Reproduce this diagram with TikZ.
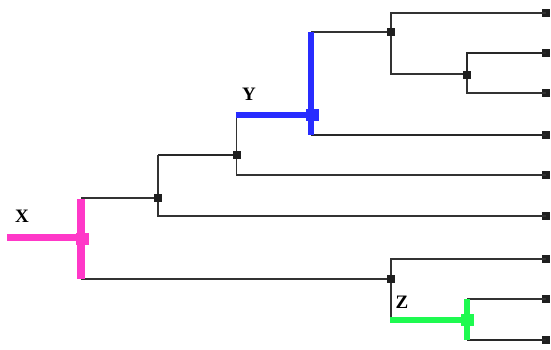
\documentclass[tikz,border=0pt]{standalone}
\usepackage{fontspec}
\setmainfont{Liberation Serif}
\definecolor{cpink}{RGB}{255,56,200}
\definecolor{cblue}{RGB}{40,44,255}
\definecolor{cgreen}{RGB}{30,250,80}
\definecolor{cline}{RGB}{50,50,50}
\begin{document}
\begin{tikzpicture}[x=1pt,y=-1pt,
  br/.style={line width=1.5pt, draw=cline},
  brthick/.style={line width=2.3pt, draw=cline!80!black},
  nd/.style={fill=black!88, minimum size=8pt, inner sep=0pt, outer sep=0pt},
  csq/.style={fill=#1, minimum width=13pt, minimum height=12pt, inner sep=0pt, outer sep=0pt},
  cbr/.style={line width=#1, line cap=butt},
  lab/.style={font=\bfseries\fontsize{19}{19}\selectfont, inner sep=0pt}]
\useasboundingbox (0,0) rectangle (551,350);
% leaves
\node[nd] (l1) at (545.5,13) {};
\node[nd] (l2) at (545.5,53) {};
\node[nd] (l3) at (545.5,93) {};
\node[nd] (l4) at (545.5,135) {};
\node[nd] (l5) at (545.5,175) {};
\node[nd] (l6) at (545.5,216) {};
\node[nd] (l7) at (545.5,259) {};
\node[nd] (l8) at (545.5,299) {};
\node[nd] (l9) at (545.5,340) {};
% internal positions
\coordinate (x0) at (7,237.5);
\coordinate (X) at (81,237.5);
\coordinate (n1) at (158,198);
\coordinate (n2) at (236.5,155);
\coordinate (Y) at (311,115);
\coordinate (A) at (391,32);
\coordinate (B) at (467,74);
\coordinate (C) at (391,279);
\coordinate (Z) at (467,320);
% black branches
\draw[br] (n1) -- (X |- n1);
\draw[br] (C) -- (X |- C);
\draw[brthick] (n2) -- (n1 |- n2);
\draw[br] (n1 |- n2) -- (n1) |- (l6.center);
\draw[br] (n2 |- Y) -- (n2) |- (l5.center);
\draw[br] (Y |- A) -- (A);
\draw[brthick] (Y |- l4) -- (l4.center);
\draw[br] (l1.center) -| (A) |- (B);
\draw[brthick] (l2.center) -| (B);
\draw[br] (B) |- (l3.center);
\draw[br] (l7.center) -| (C) -- (C |- Z);
\draw[br] (Z |- l8) -- (l8.center);
\draw[brthick] (Z |- l9) -- (l9.center);
% coloured branches
\draw[cbr=7.5pt, cpink] (x0) -- (X);
\draw[cbr=7.5pt, cpink] ([yshift=-1pt]X |- n1) -- ([yshift=0.5pt]X |- C);
\draw[cbr=6pt, cblue] ([xshift=-1pt]n2 |- Y) -- (Y);
\draw[cbr=6pt, cblue] ([yshift=-0.5pt]Y |- A) -- ([yshift=0.5pt]Y |- l4);
\draw[cbr=6.5pt, cgreen] ([xshift=-1pt]C |- Z) -- (Z);
\draw[cbr=6.5pt, cgreen] (Z |- l8) -- (Z |- l9);
% node markers
\node[nd] (mn1) at (n1) {};
\node[nd] (mn2) at (n2) {};
\node[nd] (mA) at (A) {};
\node[nd] (mB) at (467,75) {};
\node[nd] (mC) at (C) {};
\node[csq=cpink] (mX) at (82,238.5) {};
\node[csq=cblue] (mY) at (312.5,115) {};
\node[csq=cgreen] (mZ) at (467.5,320) {};
% labels
\node[lab] (tX) at (22,216) {X};
\node[lab] (tY) at (249,94) {Y};
\node[lab] (tZ) at (402,302) {Z};
\end{tikzpicture}
\end{document}
